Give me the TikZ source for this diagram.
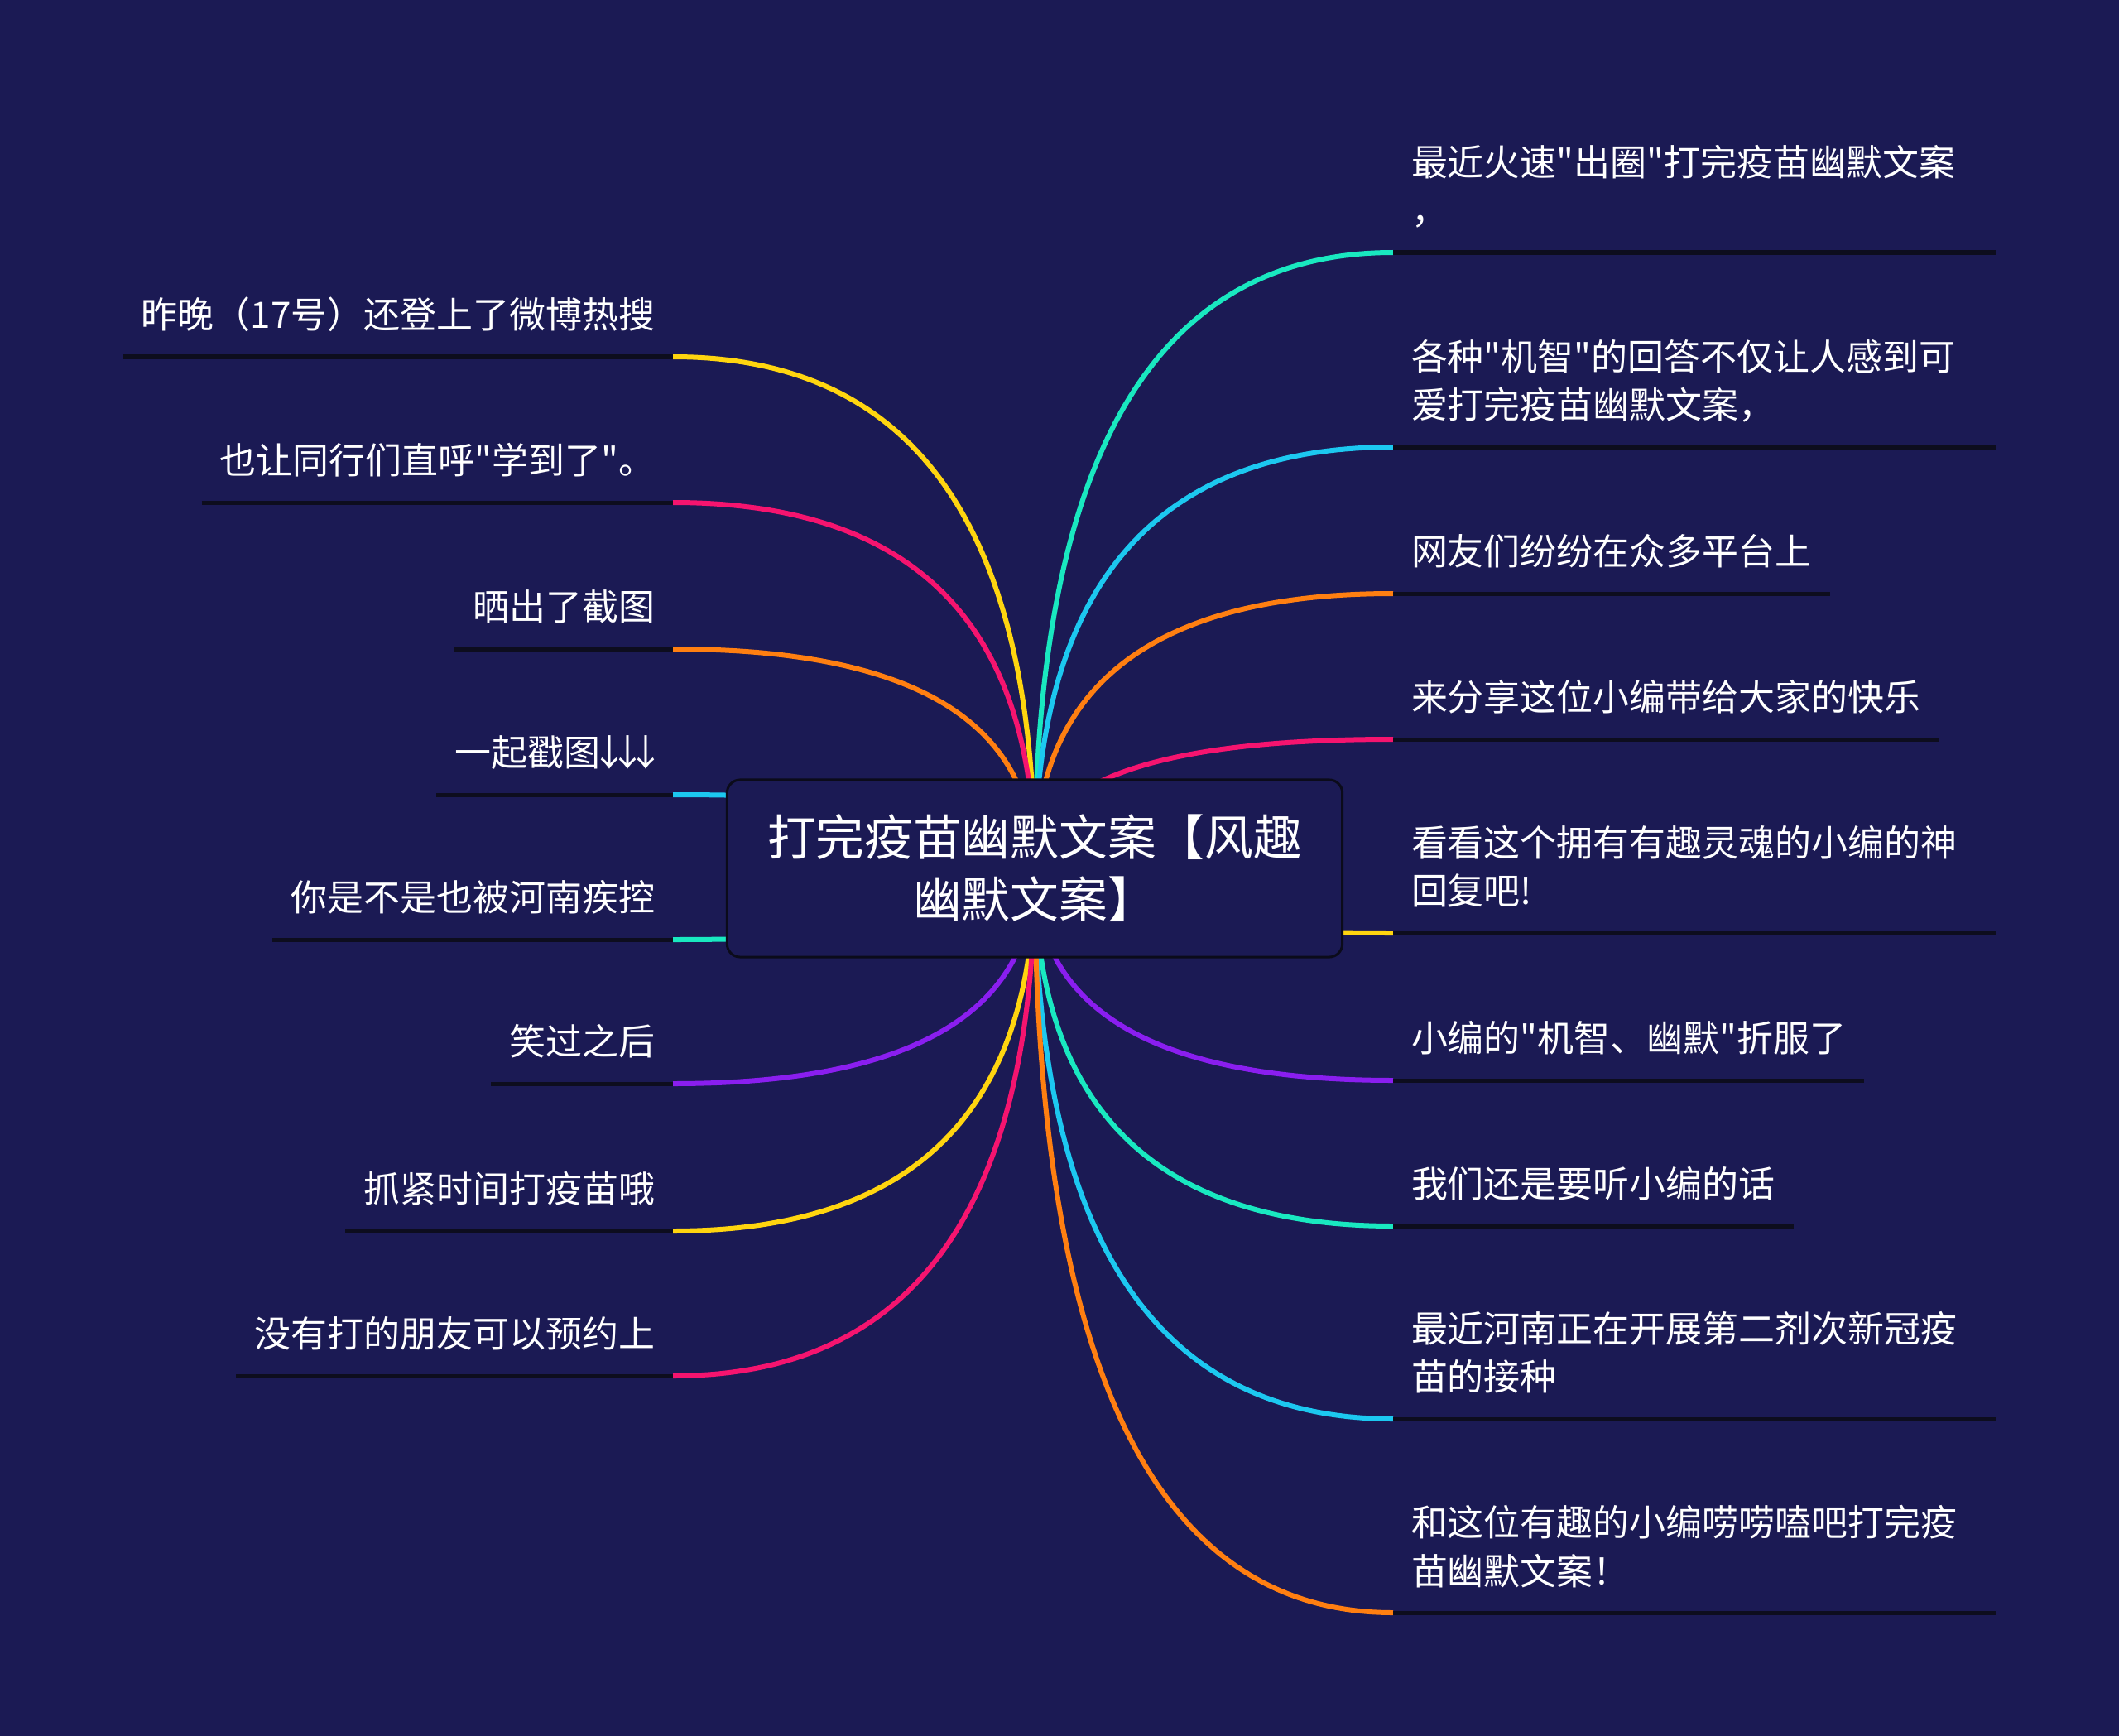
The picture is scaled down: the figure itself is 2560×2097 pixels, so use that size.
\documentclass[tikz,border=0pt]{standalone}
\usepackage{fontspec}
\newfontfamily\cjk{Noto Sans CJK SC}
\usetikzlibrary{calc}
\definecolor{bgc}{HTML}{1B1A54}
\definecolor{ulc}{HTML}{0D0D1E}
\definecolor{hubline}{HTML}{0B0B1A}
\definecolor{cteal}{HTML}{19E8C0}
\definecolor{ccyan}{HTML}{1CC8F0}
\definecolor{corange}{HTML}{FF7F11}
\definecolor{cpink}{HTML}{F5146F}
\definecolor{cyellow}{HTML}{FFD50F}
\definecolor{cpurple}{HTML}{8A1EEF}
\pgfdeclarelayer{bg}
\pgfsetlayers{bg,main}
\newcommand\brc[3]{%
  \coordinate (k#2) at (hub.center |- #2.#3);
  \draw[branch,#1] (#2.#3) .. controls ($(#2.#3)!0.6667!(k#2)$) and ($(hub.center)!0.6667!(k#2)$) .. (hub.center);}
\newcommand\twol[2]{\parbox[b]{6.84cm}{#1\\#2}}
\newcommand\dar{\kern-0.25em↓\kern-0.25em}
\tikzset{
  leaf/.style={font=\cjk\fontsize{12.5pt}{16.5pt}\selectfont, text=white, inner xsep=0.22cm, inner ysep=0.34cm, outer sep=0pt, text depth=0pt},
  rleaf/.style={leaf, anchor=south west},
  lleaf/.style={leaf, anchor=south east},
  uline/.style={draw=ulc, line width=0.05cm},
  branch/.style={line width=0.06cm},
  hubnode/.style={draw=hubline, line width=0.03cm, fill=bgc, rounded corners=0.16cm, minimum width=7.43cm, minimum height=2.14cm, align=center, text=white, font=\cjk\fontsize{16.7pt}{21.3pt}\selectfont, inner sep=0pt}
}
\begin{document}
\begin{tikzpicture}[x=0.01cm,y=-0.01cm]
\useasboundingbox (0,0) rectangle (2560,2097);
\node[hubnode] (hub) at (1250,1049) {打完疫苗幽默文案【风趣\\幽默文案】};
% right
\node[rleaf] (r1) at (1683,305) {\twol{最近火速"出圈"打完疫苗幽默文案}{，}};
\node[rleaf] (r2) at (1683,540) {\twol{各种"机智"的回答不仅让人感到可}{爱打完疫苗幽默文案，}};
\node[rleaf] (r3) at (1683,717) {网友们纷纷在众多平台上};
\node[rleaf] (r4) at (1683,893) {来分享这位小编带给大家的快乐};
\node[rleaf] (r5) at (1683,1127) {\twol{看看这个拥有有趣灵魂的小编的神}{回复吧!}};
\node[rleaf] (r6) at (1683,1305) {小编的"机智、幽默"折服了};
\node[rleaf] (r7) at (1683,1481) {我们还是要听小编的话};
\node[rleaf] (r8) at (1683,1714) {\twol{最近河南正在开展第二剂次新冠疫}{苗的接种}};
\node[rleaf] (r9) at (1683,1948) {\twol{和这位有趣的小编唠唠嗑吧打完疫}{苗幽默文案！}};
% left
\node[lleaf] (l1) at (813,431) {昨晚（17号）还登上了微博热搜};
\node[lleaf] (l2) at (813,607) {也让同行们直呼"学到了"。};
\node[lleaf] (l3) at (813,784) {晒出了截图};
\node[lleaf] (l4) at (813,960) {一起戳图\dar\dar\dar};
\node[lleaf] (l5) at (813,1135) {你是不是也被河南疾控};
\node[lleaf] (l6) at (813,1309) {笑过之后};
\node[lleaf] (l7) at (813,1487) {抓紧时间打疫苗哦};
\node[lleaf] (l8) at (813,1662) {没有打的朋友可以预约上};
\foreach \n in {r1,r2,r3,r4,r5,r6,r7,r8,r9,l1,l2,l3,l4,l5,l6,l7,l8}
  \draw[uline] (\n.south west) -- (\n.south east);
\begin{pgfonlayer}{bg}
\fill[bgc] (0,0) rectangle (2560,2097);
\brc{cteal}{r1}{south west}
\brc{ccyan}{r2}{south west}
\brc{corange}{r3}{south west}
\brc{cpink}{r4}{south west}
\brc{cyellow}{r5}{south west}
\brc{cpurple}{r6}{south west}
\brc{cteal}{r7}{south west}
\brc{ccyan}{r8}{south west}
\brc{corange}{r9}{south west}
\brc{cyellow}{l1}{south east}
\brc{cpink}{l2}{south east}
\brc{corange}{l3}{south east}
\brc{ccyan}{l4}{south east}
\brc{cteal}{l5}{south east}
\brc{cpurple}{l6}{south east}
\brc{cyellow}{l7}{south east}
\brc{cpink}{l8}{south east}
\end{pgfonlayer}
\end{tikzpicture}
\end{document}
